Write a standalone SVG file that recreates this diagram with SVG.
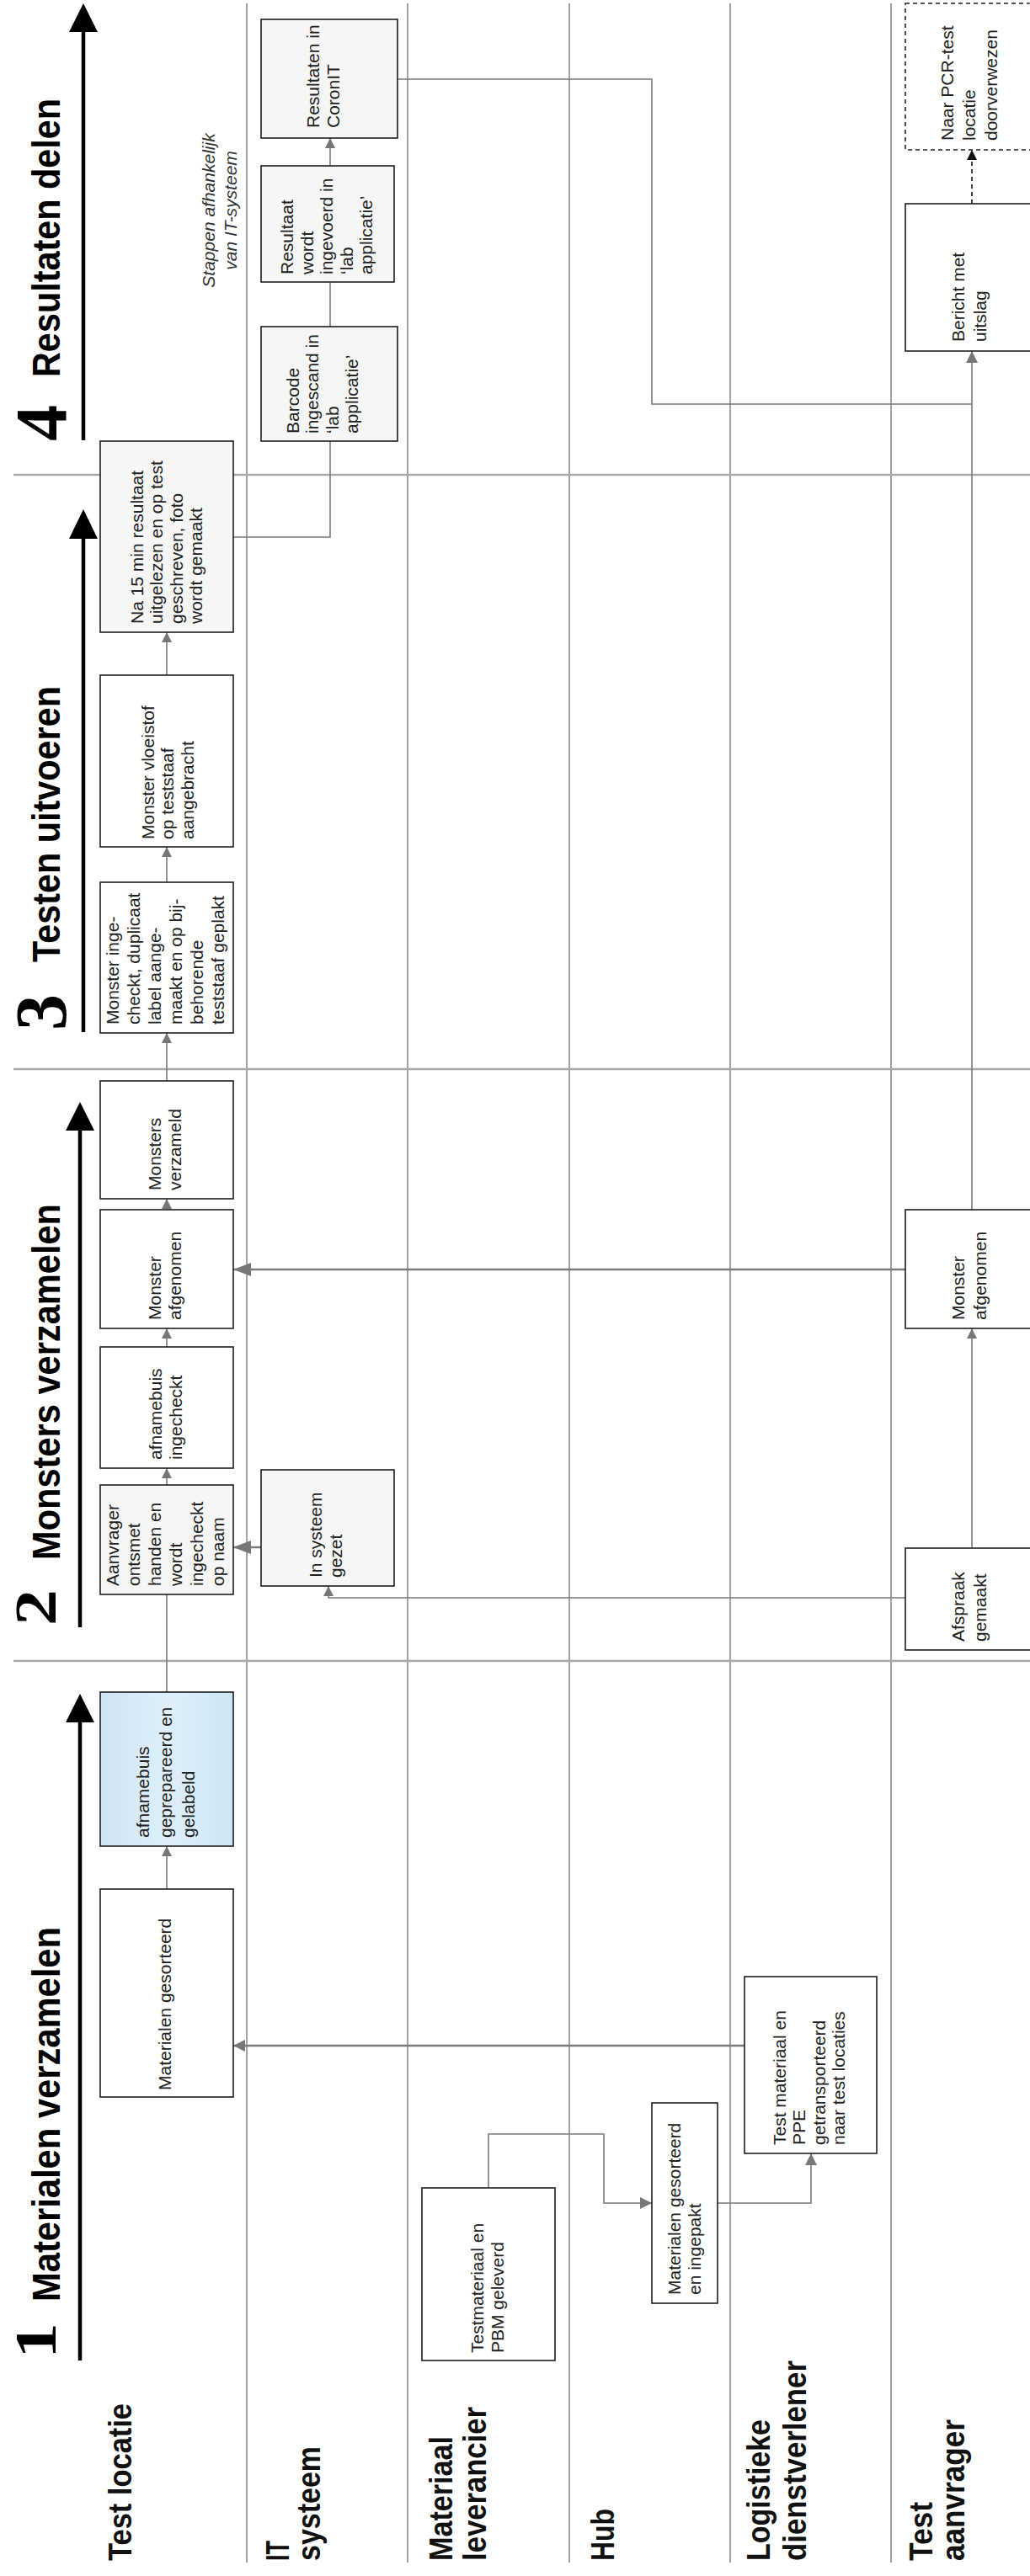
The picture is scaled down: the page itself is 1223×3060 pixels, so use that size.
<svg xmlns="http://www.w3.org/2000/svg" width="1223" height="3060" viewBox="0 0 1223 3060">
<defs>
<style>
.lane{stroke:#8c8c8c;stroke-width:1.6;fill:none}
.sep{stroke:#a8a8a8;stroke-width:2.4;fill:none}
.box{fill:#fff;stroke:#1e1e1e;stroke-width:1.6}
.boxg{fill:#f6f6f6;stroke:#1e1e1e;stroke-width:1.6}
.boxb{fill:url(#blue);stroke:#1e1e1e;stroke-width:1.6}
.boxd{fill:#fff;stroke:#222;stroke-width:1.6;stroke-dasharray:5 4}
.t{font-family:"Liberation Sans",Arial,sans-serif;font-size:21px;fill:#222}
.it{font-family:"Liberation Sans",Arial,sans-serif;font-size:21px;font-style:italic;fill:#333}
.lbl{font-family:"Liberation Sans",Arial,sans-serif;font-size:38px;font-weight:bold;fill:#111}
.hd{font-family:"Liberation Sans",Arial,sans-serif;font-size:46px;font-weight:bold;fill:#000}
.num{font-family:"Liberation Serif","Times New Roman",serif;font-size:86px;font-weight:bold;fill:#000}
.c{fill:none;stroke:#7a7a7a;stroke-width:1.6}
.cb{fill:none;stroke:#7a7a7a;stroke-width:2.6}
.cd{fill:none;stroke:#111;stroke-width:1.6;stroke-dasharray:5 4}
.ha{stroke:#000;stroke-width:4.5;fill:none}
.hh{fill:#000}
</style>
<linearGradient id="blue" x1="0" y1="0" x2="1" y2="0">
<stop offset="0" stop-color="#cfe4f3"/>
<stop offset="0.5" stop-color="#deeffa"/>
<stop offset="1" stop-color="#cfe6f5"/>
</linearGradient>
<marker id="as" viewBox="0 0 12 12" refX="12" refY="6" markerWidth="12" markerHeight="12" markerUnits="userSpaceOnUse" orient="auto"><path d="M0,0 L12,6 L0,12 z" fill="#777"/></marker>
<marker id="am" viewBox="0 0 14 14" refX="14" refY="7" markerWidth="14" markerHeight="14" markerUnits="userSpaceOnUse" orient="auto"><path d="M0,0 L14,7 L0,14 z" fill="#777"/></marker>
<marker id="al" viewBox="0 0 21 16" refX="21" refY="8" markerWidth="21" markerHeight="16" markerUnits="userSpaceOnUse" orient="auto"><path d="M0,0 L21,8 L0,16 z" fill="#777"/></marker>
<marker id="ad" viewBox="0 0 12 12" refX="12" refY="6" markerWidth="12" markerHeight="12" markerUnits="userSpaceOnUse" orient="auto"><path d="M0,0 L12,6 L0,12 z" fill="#111"/></marker>
</defs>
<rect x="0" y="0" width="1223" height="3060" fill="#fff"/>

<g id="lanes">
<line class="lane" x1="293" y1="4" x2="293" y2="3044"/>
<line class="lane" x1="484" y1="4" x2="484" y2="3044"/>
<line class="lane" x1="676" y1="4" x2="676" y2="3044"/>
<line class="lane" x1="867" y1="4" x2="867" y2="3044"/>
<line class="lane" x1="1058" y1="4" x2="1058" y2="3044"/>
<line class="sep" x1="16" y1="564" x2="1223" y2="564"/>
<line class="sep" x1="16" y1="1270" x2="1223" y2="1270"/>
<line class="sep" x1="16" y1="1973" x2="1223" y2="1973"/>
</g>

<g id="lane-labels">
<text class="lbl" transform="translate(156,3042) rotate(-90)" textLength="187" lengthAdjust="spacingAndGlyphs">Test locatie</text>
<text class="lbl" transform="translate(343,3042) rotate(-90)" textLength="24" lengthAdjust="spacingAndGlyphs">IT</text>
<text class="lbl" transform="translate(380,3042) rotate(-90)" textLength="136" lengthAdjust="spacingAndGlyphs">systeem</text>
<text class="lbl" transform="translate(537,3042) rotate(-90)" textLength="148" lengthAdjust="spacingAndGlyphs">Materiaal</text>
<text class="lbl" transform="translate(577,3042) rotate(-90)" textLength="183" lengthAdjust="spacingAndGlyphs">leverancier</text>
<text class="lbl" transform="translate(729,3042) rotate(-90)" textLength="62" lengthAdjust="spacingAndGlyphs">Hub</text>
<text class="lbl" transform="translate(914,3042) rotate(-90)" textLength="168" lengthAdjust="spacingAndGlyphs">Logistieke</text>
<text class="lbl" transform="translate(957,3042) rotate(-90)" textLength="238" lengthAdjust="spacingAndGlyphs">dienstverlener</text>
<text class="lbl" transform="translate(1107,3042) rotate(-90)" textLength="70" lengthAdjust="spacingAndGlyphs">Test</text>
<text class="lbl" transform="translate(1145,3042) rotate(-90)" textLength="168" lengthAdjust="spacingAndGlyphs">aanvrager</text>
</g>

<g id="phase-headings">
<g id="phase-1">
<line class="ha" x1="95" y1="2804" x2="95" y2="2040"/>
<polygon class="hh" points="95,2012 78,2046 112,2046"/>
<text class="num" transform="translate(66,2802) rotate(-90) scale(1,0.8)">1</text>
<text class="hd" transform="translate(71,2734) rotate(-90)" textLength="445" lengthAdjust="spacingAndGlyphs">Materialen verzamelen</text>
</g>
<g id="phase-2">
<line class="ha" x1="95" y1="1933" x2="95" y2="1337"/>
<polygon class="hh" points="95,1309 78,1343 112,1343"/>
<text class="num" transform="translate(66,1931) rotate(-90) scale(1,0.8)">2</text>
<text class="hd" transform="translate(71,1853) rotate(-90)" textLength="423" lengthAdjust="spacingAndGlyphs">Monsters verzamelen</text>
</g>
<g id="phase-3">
<line class="ha" x1="99" y1="1226" x2="99" y2="634"/>
<polygon class="hh" points="99,605 82,640 116,640"/>
<text class="num" transform="translate(78,1224) rotate(-90)">3</text>
<text class="hd" transform="translate(71,1143) rotate(-90)" textLength="328" lengthAdjust="spacingAndGlyphs">Testen uitvoeren</text>
</g>
<g id="phase-4">
<line class="ha" x1="99" y1="523" x2="99" y2="32"/>
<polygon class="hh" points="99,4 82,38 116,38"/>
<text class="num" transform="translate(78,524) rotate(-90)">4</text>
<text class="hd" transform="translate(71,448) rotate(-90)" textLength="331" lengthAdjust="spacingAndGlyphs">Resultaten delen</text>
</g>
<text class="it" text-anchor="middle" transform="translate(0,250) rotate(-90)"><tspan x="0" y="255">Stappen afhankelijk</tspan><tspan x="0" y="281">van IT-systeem</tspan></text>
</g>

<g id="connectors">
<polyline class="c" points="277,638 392,638 392,524"/>
<line class="c" x1="392" y1="388" x2="392" y2="335"/>
<line class="c" x1="392" y1="197" x2="392" y2="164" marker-end="url(#as)"/>
<polyline class="c" points="472,94 774,94 774,480 1154,480"/>
<line class="c" x1="1154" y1="1437" x2="1154" y2="417" marker-end="url(#am)"/>
<line class="cd" x1="1154" y1="242" x2="1154" y2="178" marker-end="url(#ad)"/>
<line class="c" x1="198" y1="802" x2="198" y2="751" marker-end="url(#as)"/>
<line class="c" x1="198" y1="1048" x2="198" y2="1006" marker-end="url(#as)"/>
<line class="c" x1="198" y1="1284" x2="198" y2="1227" marker-end="url(#as)"/>
<line class="c" x1="198" y1="1437" x2="198" y2="1424" marker-end="url(#as)"/>
<line class="cb" x1="1075" y1="1508" x2="277" y2="1508" marker-end="url(#al)"/>
<line class="c" x1="198" y1="1600" x2="198" y2="1578" marker-end="url(#as)"/>
<line class="c" x1="198" y1="1764" x2="198" y2="1744" marker-end="url(#as)"/>
<line class="cb" x1="310" y1="1838" x2="277" y2="1838" marker-end="url(#al)"/>
<polyline class="c" points="1075,1898 390,1898 390,1884" marker-end="url(#as)"/>
<line class="c" x1="1154" y1="1839" x2="1154" y2="1578" marker-end="url(#as)"/>
<line class="c" x1="198" y1="2010" x2="198" y2="1894"/>
<line class="c" x1="198" y1="2244" x2="198" y2="2193" marker-end="url(#as)"/>
<line class="cb" x1="884" y1="2430" x2="277" y2="2430" marker-end="url(#am)"/>
<polyline class="c" points="580,2599 580,2535 717,2535 717,2617 774,2617" marker-end="url(#am)"/>
<polyline class="c" points="852,2617 963,2617 963,2558" marker-end="url(#am)"/>
</g>

<g id="n-na15min">
<rect class="boxg" x="119" y="524" width="158" height="227"/>
<text class="t" transform="translate(199,741) rotate(-90)"><tspan x="0" y="-29.25">Na 15 min resultaat</tspan><tspan x="0" y="-5.75">uitgelezen en op test</tspan><tspan x="0" y="17.75">geschreven, foto</tspan><tspan x="0" y="41.25">wordt gemaakt</tspan></text>
</g>
<g id="n-vloeistof">
<rect class="box" x="119" y="802" width="158" height="204"/>
<text class="t" transform="translate(200,997) rotate(-90)"><tspan x="0" y="-17.5">Monster vloeistof</tspan><tspan x="0" y="6">op teststaaf</tspan><tspan x="0" y="29.5">aangebracht</tspan></text>
</g>
<g id="n-ingecheckt-label">
<rect class="box" x="119" y="1048" width="158" height="179"/>
<text class="t" transform="translate(197,1217) rotate(-90)"><tspan x="0" y="-56.5">Monster inge-</tspan><tspan x="0" y="-31.5">checkt, duplicaat</tspan><tspan x="0" y="-6.5">label aange-</tspan><tspan x="0" y="18.5">maakt en op bij-</tspan><tspan x="0" y="43.5">behorende</tspan><tspan x="0" y="68.5">teststaaf geplakt</tspan></text>
</g>
<g id="n-verzameld">
<rect class="box" x="119" y="1284" width="158" height="140"/>
<text class="t" transform="translate(197,1414) rotate(-90)"><tspan x="0" y="-6">Monsters</tspan><tspan x="0" y="18">verzameld</tspan></text>
</g>
<g id="n-afgenomen-tl">
<rect class="box" x="119" y="1437" width="158" height="141"/>
<text class="t" transform="translate(197,1568) rotate(-90)"><tspan x="0" y="-6">Monster</tspan><tspan x="0" y="18">afgenomen</tspan></text>
</g>
<g id="n-buis-ingecheckt">
<rect class="box" x="119" y="1600" width="158" height="144"/>
<text class="t" transform="translate(198,1734) rotate(-90)"><tspan x="0" y="-6">afnamebuis</tspan><tspan x="0" y="18">ingecheckt</tspan></text>
</g>
<g id="n-aanvrager">
<rect class="boxg" x="119" y="1764" width="158" height="130"/>
<text class="t" transform="translate(197,1884) rotate(-90)"><tspan x="0" y="-56.5">Aanvrager</tspan><tspan x="0" y="-31.5">ontsmet</tspan><tspan x="0" y="-6.5">handen en</tspan><tspan x="0" y="18.5">wordt</tspan><tspan x="0" y="43.5">ingecheckt</tspan><tspan x="0" y="68.5">op naam</tspan></text>
</g>
<g id="n-buis-geprepareerd">
<rect class="boxb" x="119" y="2010" width="158" height="183"/>
<text class="t" transform="translate(198,2183) rotate(-90)"><tspan x="0" y="-21">afnamebuis</tspan><tspan x="0" y="6">geprepareerd en</tspan><tspan x="0" y="33">gelabeld</tspan></text>
</g>
<g id="n-materialen-gesorteerd">
<rect class="box" x="119" y="2244" width="158" height="247"/>
<text class="t" transform="translate(197,2483) rotate(-90)"><tspan x="0" y="6">Materialen gesorteerd</tspan></text>
</g>

<g id="n-coronit">
<rect class="boxg" x="310" y="23" width="162" height="141"/>
<text class="t" transform="translate(385,152) rotate(-90)"><tspan x="0" y="-6">Resultaten in</tspan><tspan x="0" y="18">CoronIT</tspan></text>
</g>
<g id="n-resultaat">
<rect class="boxg" x="310" y="197" width="158" height="138"/>
<text class="t" transform="translate(389,326) rotate(-90)"><tspan x="0" y="-41">Resultaat</tspan><tspan x="0" y="-17.5">wordt</tspan><tspan x="0" y="6">ingevoerd in</tspan><tspan x="0" y="29.5">‘lab</tspan><tspan x="0" y="53">applicatie’</tspan></text>
</g>
<g id="n-barcode">
<rect class="boxg" x="310" y="388" width="162" height="136"/>
<text class="t" transform="translate(384,515) rotate(-90)"><tspan x="0" y="-29.25">Barcode</tspan><tspan x="0" y="-5.75">ingescand in</tspan><tspan x="0" y="17.75">‘lab</tspan><tspan x="0" y="41.25">applicatie’</tspan></text>
</g>
<g id="n-in-systeem">
<rect class="boxg" x="310" y="1746" width="158" height="138"/>
<text class="t" transform="translate(388,1874) rotate(-90)"><tspan x="0" y="-6">In systeem</tspan><tspan x="0" y="18">gezet</tspan></text>
</g>

<g id="n-testmateriaal-geleverd">
<rect class="box" x="501" y="2599" width="158" height="205"/>
<text class="t" transform="translate(580,2795) rotate(-90)"><tspan x="0" y="-6">Testmateriaal en</tspan><tspan x="0" y="18">PBM geleverd</tspan></text>
</g>
<g id="n-hub-ingepakt">
<rect class="box" x="774" y="2498" width="78" height="238"/>
<text class="t" transform="translate(814,2726) rotate(-90)"><tspan x="0" y="-6">Materialen gesorteerd</tspan><tspan x="0" y="18">en ingepakt</tspan></text>
</g>
<g id="n-getransporteerd">
<rect class="box" x="884" y="2348" width="157" height="210"/>
<text class="t" transform="translate(962,2548) rotate(-90)"><tspan x="0" y="-29.25">Test materiaal en</tspan><tspan x="0" y="-5.75">PPE</tspan><tspan x="0" y="17.75">getransporteerd</tspan><tspan x="0" y="41.25">naar test locaties</tspan></text>
</g>

<g id="n-pcr">
<rect class="boxd" x="1075" y="4" width="160" height="174"/>
<text class="t" transform="translate(1152,167) rotate(-90)"><tspan x="0" y="-20">Naar PCR-test</tspan><tspan x="0" y="6">locatie</tspan><tspan x="0" y="32">doorverwezen</tspan></text>
</g>
<g id="n-bericht">
<rect class="box" x="1075" y="242" width="160" height="175"/>
<text class="t" transform="translate(1152,406) rotate(-90)"><tspan x="0" y="-7">Bericht met</tspan><tspan x="0" y="19">uitslag</tspan></text>
</g>
<g id="n-afgenomen-ta">
<rect class="box" x="1075" y="1437" width="160" height="141"/>
<text class="t" transform="translate(1152,1568) rotate(-90)"><tspan x="0" y="-7">Monster</tspan><tspan x="0" y="19">afgenomen</tspan></text>
</g>
<g id="n-afspraak">
<rect class="box" x="1075" y="1839" width="160" height="121"/>
<text class="t" transform="translate(1152,1950) rotate(-90)"><tspan x="0" y="-7">Afspraak</tspan><tspan x="0" y="19">gemaakt</tspan></text>
</g>
</svg>
